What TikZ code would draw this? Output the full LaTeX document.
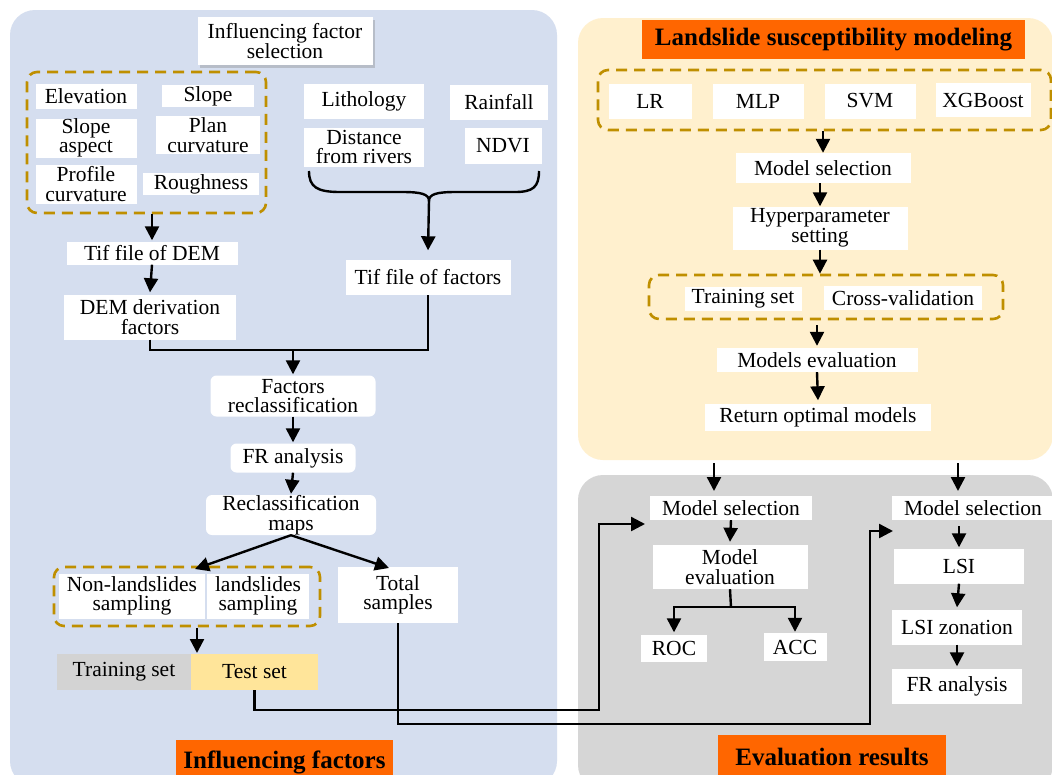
\documentclass[tikz,border=0pt]{standalone}
\usepackage{fontspec}
\setmainfont{Liberation Serif}
\usetikzlibrary{arrows.meta,shadows,calc}
\definecolor{bluebg}{HTML}{D5DEEF}
\definecolor{yellowbg}{HTML}{FFF0CE}
\definecolor{graybg}{HTML}{D6D6D6}
\definecolor{orangett}{HTML}{FF6600}
\definecolor{dashc}{HTML}{BF8F00}
\definecolor{testc}{HTML}{FFE59A}
\definecolor{trainc}{HTML}{D3D3D3}
\begin{document}
\begin{tikzpicture}[x=1pt,y=-1pt,
  box/.style={fill=white, inner sep=0pt, align=center, font=\fontsize{21.5}{19.5}\selectfont},
  rbox/.style={box, rounded corners=6pt},
  ttl/.style={fill=orangett, inner sep=0pt, font=\fontsize{25}{25}\selectfont\bfseries},
  dbox/.style={draw=dashc, line width=2.6pt, dash pattern=on 11pt off 7pt, rounded corners=10pt, inner sep=0pt},
  arr/.style={line width=2.4pt, -{Triangle[length=14pt,width=14pt]}},
  ln/.style={line width=2.4pt},
]
\useasboundingbox (0,0) rectangle (1052,774);
\clip (0,0) rectangle (1052,774);
\fill[white] (0,0) rectangle (1052,774);
% panels
\fill[bluebg, rounded corners=25pt] (10,10) rectangle (557,786);
\fill[yellowbg, rounded corners=25pt] (578,18) rectangle (1053,460);
\fill[graybg, rounded corners=25pt] (578,475) rectangle (1053,790);
% titles
\node[ttl, minimum width=383, minimum height=39] (t1) at (833.5,39.5) {Landslide susceptibility modeling};
\node[ttl, minimum width=217, minimum height=44] (t2) at (284.5,762) {Influencing factors};
\node[ttl, minimum width=228, minimum height=44] (t3) at (832,757) {Evaluation results};
% left panel
\node[box, minimum width=175, minimum height=48, drop shadow={opacity=0.35, shadow xshift=2pt, shadow yshift=-3pt}] (ifs) at (285,41) {Influencing factor\\selection};
\node[dbox, minimum width=239, minimum height=141] (dash1) at (146.5,142.5) {};
\node[box, minimum width=101, minimum height=25] (elev) at (86,96) {Elevation};
\node[box, minimum width=92, minimum height=22] (slope) at (208,96) {Slope};
\node[box, minimum width=101, minimum height=39] (aspect) at (86,138) {Slope\\aspect};
\node[box, minimum width=104, minimum height=38] (plan) at (208,135) {Plan\\curvature};
\node[box, minimum width=101, minimum height=39] (profile) at (86,184) {Profile\\curvature};
\node[box, minimum width=116, minimum height=22] (rough) at (201,184) {Roughness};
\node[box, minimum width=120, minimum height=35] (litho) at (364,101) {Lithology};
\node[box, minimum width=98, minimum height=35] (rain) at (499,102) {Rainfall};
\node[box, minimum width=120, minimum height=39] (dist) at (364,147) {Distance\\from rivers};
\node[box, minimum width=77, minimum height=36] (ndvi) at (503,146) {NDVI};
\node[box, minimum width=165, minimum height=35] (tiff) at (428,277) {Tif file of factors};
\node[box, minimum width=171, minimum height=23] (tifd) at (152,253) {Tif file of DEM};
\node[box, minimum width=172, minimum height=45] (demd) at (150,317) {DEM derivation\\factors};
\node[rbox, minimum width=165, minimum height=41] (frc) at (293,396) {Factors\\reclassification};
\node[rbox, minimum width=125, minimum height=29] (fra) at (293,458) {FR analysis};
\node[rbox, minimum width=170, minimum height=40] (rmap) at (291,515) {Reclassification\\maps};
\node[dbox, minimum width=266, minimum height=59] (dash2) at (187,596.5) {};
\node[box, minimum width=146, minimum height=45] (nonl) at (132,596) {Non-landslides\\sampling};
\node[box, minimum width=102, minimum height=45] (lsam) at (258,596) {landslides\\sampling};
\node[box, minimum width=120, minimum height=56] (tot) at (398,595) {Total\\samples};
\node[box, fill=trainc, minimum width=134, minimum height=36] (trs) at (124,672) {Training set};
\node[box, fill=testc, minimum width=127, minimum height=36] (tes) at (254.5,672) {Test set};
% right panel
\node[dbox, minimum width=453, minimum height=60] (dash3) at (824.5,100) {};
\node[box, minimum width=83, minimum height=35] (lr) at (650,101) {LR};
\node[box, minimum width=91, minimum height=35] (mlp) at (758,101) {MLP};
\node[box, minimum width=91, minimum height=35] (svm) at (870,101) {SVM};
\node[box, minimum width=95, minimum height=34] (xgb) at (983,100) {XGBoost};
\node[box, minimum width=175, minimum height=30] (ms) at (823,168) {Model selection};
\node[box, minimum width=175, minimum height=43] (hyp) at (820,228) {Hyperparameter\\setting};
\node[dbox, minimum width=354, minimum height=44] (dash4) at (826,297) {};
\node[box, minimum width=117, minimum height=24] (trn) at (743,299) {Training set};
\node[box, minimum width=158, minimum height=24] (cv) at (903,298) {Cross-validation};
\node[box, minimum width=201, minimum height=24] (mev) at (817,360) {Models evaluation};
\node[box, minimum width=226, minimum height=27] (rom) at (818,417) {Return optimal models};
% gray panel
\node[box, minimum width=162, minimum height=24] (ms1) at (731,508) {Model selection};
\node[box, minimum width=155, minimum height=44] (mev1) at (730,567) {Model\\evaluation};
\node[box, minimum width=66, minimum height=27] (roc) at (674,648) {ROC};
\node[box, minimum width=63, minimum height=28] (acc) at (795,647) {ACC};
\node[box, minimum width=162, minimum height=24] (ms2) at (973,508) {Model selection};
\node[box, minimum width=130, minimum height=35] (lsi) at (959,566) {LSI};
\node[box, minimum width=130, minimum height=35] (lsiz) at (957,627) {LSI zonation};
\node[box, minimum width=130, minimum height=35] (fra2) at (957,686) {FR analysis};
% coordinates
\coordinate (bl) at (309,171);
\coordinate (br) at (539,171);
\coordinate (bt) at (429,201);
\coordinate (j1) at (293,350);
\coordinate (tl) at (195,569);
\coordinate (tr) at (389,568);
\coordinate (sp) at (197,628);
\coordinate (spt) at (197,653);
\coordinate (ca) at (599,710);
\coordinate (ta) at (645,524);
\coordinate (cb) at (870,724);
\coordinate (tb) at (893,531);
\coordinate (o1) at (714,463);
\coordinate (i1) at (714,491);
\coordinate (o2) at (958,463);
\coordinate (i2) at (958,491);
\coordinate (j2) at (731,607);
% brace
\draw[ln] (bl) .. controls (309,187) and (317,192) .. (340,192) -- (402,192) .. controls (421,192) and (429,194) .. (bt) .. controls (429,194) and (437,192) .. (456,192) -- (515,192) .. controls (533,192) and (539,187) .. (br);
% left connectors
\draw[arr] (bt) -- ($(tiff.north)+(0,-9)$);
\draw[arr] (tifd.north |- dash1.south) -- ($(tifd.north)+(0,-1)$);
\draw[arr] (tifd.south) -- ($(demd.north)+(0,-2)$);
\draw[ln] (demd.south) |- (j1) -| (tiff.south);
\draw[arr] (j1) -- ($(frc.north)+(0,-1)$);
\draw[arr] (frc.south) -- ($(fra.north)+(0,-1)$);
\draw[arr] (fra.south) -- ($(rmap.north)+(0,-1)$);
\draw[arr] (rmap.south) -- (tl);
\draw[arr] (rmap.south) -- (tr);
\draw[arr] (sp) -- (spt);
\draw[arr] (tes.south) |- (ca) |- (ta);
\draw[arr] (tot.south) |- (cb) |- (tb);
% right connectors
\draw[arr] (ms.north |- dash3.south) -- (ms.north);
\draw[arr] (hyp.north |- ms.south) -- (hyp.north);
\draw[arr] (hyp.south) -- (hyp.south |- dash4.north);
\draw[arr] ($(mev.north |- dash4.south)+(0,5)$) -- ($(mev.north)+(0,-2)$);
\draw[arr] (mev.south) -- ($(rom.north)+(0,-3)$);
% gray connectors
\draw[arr] (o1) -- (i1);
\draw[arr] (o2) -- (i2);
\draw[arr] (ms1.south) -- ($(mev1.north)+(0,-3)$);
\draw[ln] (mev1.south) -- (j2);
\draw[arr] (j2) -| ($(roc.north)+(0,-2)$);
\draw[arr] (j2) -| ($(acc.north)+(0,-1)$);
\draw[arr] ($(lsi.north |- ms2.south)+(0,6)$) -- ($(lsi.north)+(0,-1)$);
\draw[arr] (lsi.south) -- ($(lsiz.north)+(0,-2)$);
\draw[arr] (lsiz.south) -- ($(fra2.north)+(0,-2)$);
\end{tikzpicture}
\end{document}
